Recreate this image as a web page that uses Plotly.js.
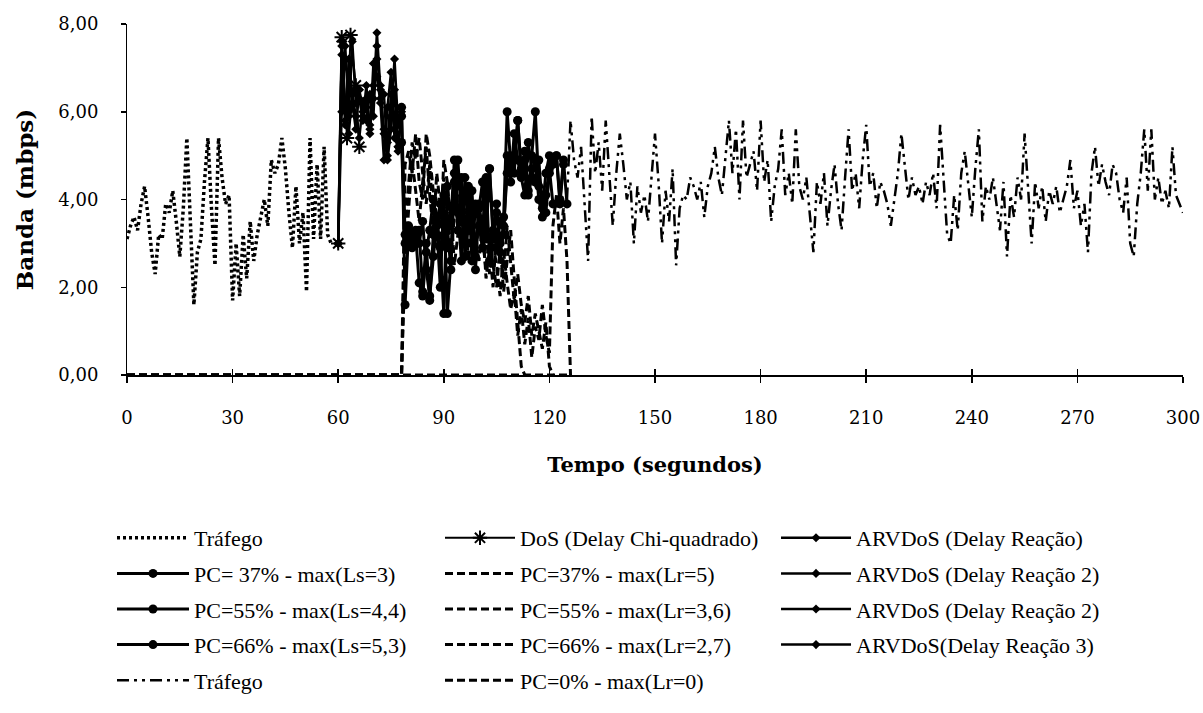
<!DOCTYPE html>
<html>
<head>
<meta charset="utf-8">
<script src="https://cdn.plot.ly/plotly-3.0.1.min.js"></script>
<style>html,body{margin:0;padding:0;background:#fff}#chart{width:1203px;height:713px}</style>
</head>
<body>
<div id="chart"></div>
<script>
// ---- data (seconds -> mbps) ----
const xTicks = [0, 30, 60, 90, 120, 150, 180, 210, 240, 270, 300];
const yTicks = [0, 2, 4, 6, 8];

const trafegoStart = 0;
const trafegoVals = [3.1,3.4,3.6,3.3,3.9,4.3,3.6,2.8,2.3,3.2,3.1,3.9,3.7,4.2,3.5,2.7,3.8,5.4,3.5,1.6,
  2.8,3.1,4.4,5.4,3.8,2.5,5.4,4.5,3.9,4.1,1.7,3.0,1.8,3.2,2.2,3.5,2.6,3.2,3.6,4.0,
  3.4,4.9,4.6,4.8,5.4,4.7,3.7,2.9,4.3,3.0,3.7,1.9,5.4,3.1,4.8,3.1,5.2,3.2,3.0];

const dosTimes = [60, 61, 62.5, 63.5, 65, 66];
const dosVals = [3.0, 7.7, 5.4, 7.75, 6.6, 5.2];

const arvStart = 60;
const arv1Vals  = [3.0,7.6,6.1,5.5,6.4,6.5,6.3,5.8,6.6,5.6,6.3,7.8,6.5,6.4,5.0,5.9,7.2,5.7,6.1];
const arv2Vals  = [3.0,6.0,7.5,5.9,7.6,6.2,6.5,5.9,6.3,5.5,7.1,6.8,6.2,4.9,6.1,6.9,5.4,5.2,5.9];
const arv2bVals = [3.0,7.3,5.8,6.0,6.2,5.6,6.5,6.0,5.8,6.4,5.9,7.5,6.3,5.6,5.3,6.4,5.9,5.1,5.3];
const arv3Vals  = [3.0,7.5,5.7,7.2,6.4,5.9,5.4,6.2,6.1,5.7,6.6,7.2,6.6,5.5,4.9,5.6,6.5,5.2,6.0];

const lsStart = 78;
const ls37Vals = [6.1,1.6,3.3,3.2,3.1,3.3,1.9,3.0,1.7,3.2,3.6,2.9,1.4,4.3,3.5,4.9,3.7,2.6,4.5,3.3,
  4.2,2.7,3.8,4.4,3.1,4.7,3.3,2.9,3.5,3.6,6.0,4.8,4.9,5.8,4.6,4.9,4.2,5.0,6.0,4.3,
  4.0,3.7,4.6,4.9,5.0,3.9,4.8];
const ls55Vals = [5.9,3.2,3.4,3.0,3.2,2.1,1.8,2.8,3.3,4.0,3.4,2.0,4.1,1.4,2.6,4.6,4.9,3.6,3.0,4.3,
  2.6,3.9,3.4,2.9,4.0,4.7,3.1,3.7,3.0,3.4,4.6,5.0,4.6,5.8,4.7,5.1,4.1,4.5,4.9,4.0,
  3.6,4.1,4.7,3.9];
const ls66Vals = [5.3,3.0,3.3,2.9,3.3,3.0,3.5,2.4,1.8,2.7,3.5,3.9,3.0,3.4,2.4,4.4,3.3,4.5,2.7,3.4,
  3.8,2.4,3.9,3.3,4.5,2.6,3.2,3.9,2.8,3.2,5.0,4.4,5.5,4.9,4.5,4.1,5.3,4.7,4.4,4.9,
  3.8,4.6,5.0,4.8,5.0,4.0,4.9,3.9];

const lrZeroUntil = 78;      // all Lr series sit on 0 until this second
const lrStart = 79;
const lr37Vals = [4.8,5.1,4.6,5.5,4.4,4.0,5.5,5.0,4.2,3.6,2.9,4.9,4.4,3.3,4.1,3.5,3.0,3.8,2.6,3.4,
  2.9,3.6,3.1,2.4,3.2,2.5,2.0,2.9,1.9,2.6,3.3,2.2,1.2,0.2,0];
const lr55Vals = [3.4,4.3,5.3,4.9,5.4,4.6,3.9,4.8,3.5,2.9,3.7,4.5,2.8,3.9,2.5,3.2,4.3,3.6,2.7,3.9,
  3.0,2.6,3.5,2.2,2.9,2.0,3.3,2.7,2.2,3.4,2.5,1.7,2.3,1.6,1.2,1.8,0.9,1.4,1.0,0.6,
  1.2,0.2,0];
const lr66Vals = [2.6,3.7,4.9,4.2,3.5,4.4,5.2,4.1,3.3,4.6,3.8,3.1,4.0,2.7,3.6,4.7,3.4,2.9,4.1,3.3,
  2.5,3.8,2.8,3.4,2.3,3.0,2.5,1.8,2.8,2.1,1.5,1.9,0.9,1.5,0.7,1.3,0.4,1.1,0.8,1.6,
  0.9,0.5,3.4,4.1,3.0,3.8,2.6,0];
const pc0Times = [0, 126];
const pc0Vals = [0, 0];

const trafego2Start = 125;
const trafego2Vals = [4.0,5.8,4.9,4.5,5.2,3.9,2.6,5.9,4.6,5.3,4.2,5.8,4.5,3.4,4.6,5.5,4.8,4.0,4.4,3.0,
  4.3,3.7,4.1,3.5,4.5,5.5,4.4,3.0,4.2,3.5,4.7,2.5,3.8,4.1,4.0,4.5,4.3,4.0,4.4,3.6,
  4.3,4.6,5.2,4.5,4.1,5.0,5.8,4.6,5.6,4.0,5.8,4.5,4.8,5.1,4.2,5.8,4.4,4.9,3.5,4.3,
  4.7,5.6,4.1,4.6,3.9,5.6,4.3,4.0,4.5,3.7,2.8,4.4,3.9,4.6,3.4,4.2,4.8,3.9,3.3,4.5,
  5.6,4.2,4.6,3.8,4.9,5.7,4.3,4.6,3.8,4.4,4.2,3.9,3.4,4.0,4.6,5.5,4.7,4.0,4.5,4.1,
  4.3,3.9,4.4,4.1,4.6,3.8,5.7,4.4,3.2,3.0,4.1,3.3,4.6,5.1,4.3,3.6,4.7,5.6,3.5,4.3,
  4.0,4.5,3.9,3.3,4.4,2.7,4.1,3.6,4.5,4.0,5.5,4.2,3.0,4.4,3.8,4.3,3.5,4.2,3.9,4.3,
  3.7,4.0,4.3,4.9,3.8,4.2,3.4,3.9,2.8,4.6,5.2,4.3,4.8,4.4,4.1,4.8,4.6,4.0,3.7,4.5,
  3.0,2.7,3.9,4.6,5.6,4.2,5.6,4.0,4.5,3.9,4.2,3.8,5.2,4.1,3.9,3.7];

// ---- helpers ----
function seconds(start, n) { const a = []; for (let i = 0; i < n; i++) a.push(start + i); return a; }
function lrTimes(vals) { return [0, lrZeroUntil].concat(seconds(lrStart, vals.length)); }
function lrValues(vals) { return [0, 0].concat(vals); }

const K = '#000';
const solid = (w) => ({color: K, width: w});
const traces = [];
function add(t) { t.type = 'scatter'; t.legendgroup = 'g' + traces.length; traces.push(t); }

add({name: 'Tráfego', legend: 'legend', x: seconds(trafegoStart, trafegoVals.length), y: trafegoVals,
  mode: 'lines', line: {color: K, width: 3.5, dash: '3px,3px'}});
add({name: 'DoS (Delay Chi-quadrado)', legend: 'legend2', x: dosTimes, y: dosVals, mode: 'lines+markers',
  line: solid(2), marker: {symbol: 'asterisk-open', size: 12, color: K, line: {color: K, width: 2}}});
add({name: 'ARVDoS (Delay Reação)', legend: 'legend3', x: seconds(arvStart, arv1Vals.length), y: arv1Vals,
  mode: 'lines+markers', line: solid(2.5), marker: {symbol: 'diamond', size: 7, color: K}});
add({name: 'PC= 37% - max(Ls=3)', legend: 'legend', x: seconds(lsStart, ls37Vals.length), y: ls37Vals,
  mode: 'lines+markers', line: solid(3), marker: {symbol: 'circle', size: 9, color: K}});
add({name: 'PC=37% - max(Lr=5)', legend: 'legend2', x: lrTimes(lr37Vals), y: lrValues(lr37Vals),
  mode: 'lines', line: {color: K, width: 3, dash: '8px,4px'}});
add({name: 'ARVDoS (Delay Reação 2)', legend: 'legend3', x: seconds(arvStart, arv2Vals.length), y: arv2Vals,
  mode: 'lines+markers', line: solid(2.5), marker: {symbol: 'diamond', size: 7, color: K}});
add({name: 'PC=55% - max(Ls=4,4)', legend: 'legend', x: seconds(lsStart, ls55Vals.length), y: ls55Vals,
  mode: 'lines+markers', line: solid(3), marker: {symbol: 'circle', size: 9, color: K}});
add({name: 'PC=55% - max(Lr=3,6)', legend: 'legend2', x: lrTimes(lr55Vals), y: lrValues(lr55Vals),
  mode: 'lines', line: {color: K, width: 3, dash: '8px,4px'}});
add({name: 'ARVDoS (Delay Reação 2)', legend: 'legend3', x: seconds(arvStart, arv2bVals.length), y: arv2bVals,
  mode: 'lines+markers', line: solid(2.5), marker: {symbol: 'diamond', size: 7, color: K}});
add({name: 'PC=66% - max(Ls=5,3)', legend: 'legend', x: seconds(lsStart, ls66Vals.length), y: ls66Vals,
  mode: 'lines+markers', line: solid(3), marker: {symbol: 'circle', size: 9, color: K}});
add({name: 'PC=66% - max(Lr=2,7)', legend: 'legend2', x: lrTimes(lr66Vals), y: lrValues(lr66Vals),
  mode: 'lines', line: {color: K, width: 3, dash: '8px,4px'}});
add({name: 'ARVDoS(Delay Reação 3)', legend: 'legend3', x: seconds(arvStart, arv3Vals.length), y: arv3Vals,
  mode: 'lines+markers', line: solid(2.5), marker: {symbol: 'diamond', size: 7, color: K}});
add({name: 'Tráfego', legend: 'legend', x: seconds(trafego2Start, trafego2Vals.length), y: trafego2Vals,
  mode: 'lines', line: {color: K, width: 2.5, dash: '12px,5px,3px,5px,3px,5px'}});
add({name: 'PC=0% - max(Lr=0)', legend: 'legend2', x: pc0Times, y: pc0Vals, xaxis: 'x2', yaxis: 'y2',
  mode: 'lines', line: {color: K, width: 3, dash: '8px,4px'}});

const serif = 'Liberation Serif, DejaVu Serif, serif';
const wide = 'DejaVu Serif, Liberation Serif, serif';
const legendBase = {orientation: 'v', traceorder: 'grouped', tracegroupgap: 4, itemwidth: 70,
  font: {family: serif, size: 22, color: K}, bgcolor: 'rgba(0,0,0,0)', borderwidth: 0,
  yanchor: 'top', y: -0.4045, xanchor: 'left'};
const clear = 'rgba(0,0,0,0)';

const layout = {
  width: 1203, height: 713,
  margin: {l: 127, r: 20, t: 24, b: 333},
  paper_bgcolor: '#fff', plot_bgcolor: '#fff',
  separators: ',.',
  showlegend: true,
  font: {family: serif, color: K},
  // main x axis: line, outside ticks, labels and title
  xaxis: {range: [0, 300], tickvals: xTicks, ticktext: xTicks.map(String), showgrid: false, zeroline: false,
    showline: true, linecolor: K, linewidth: 1.5, ticks: 'outside', ticklen: 6, tickwidth: 1.5, tickcolor: K,
    tickfont: {family: wide, size: 18, color: K}, ticklabelstandoff: 20,
    title: {text: '<b>Tempo (segundos)</b>', font: {family: wide, size: 21, color: K}, standoff: 30}},
  // overlay x axis: inside half of the crossing ticks
  xaxis2: {range: [0, 300], overlaying: 'x', anchor: 'y2', side: 'bottom', tickvals: xTicks, showticklabels: false,
    showgrid: false, zeroline: false, showline: false, ticks: 'inside', ticklen: 6, tickwidth: 1.5, tickcolor: K},
  // main y axis: line and short outside ticks
  yaxis: {range: [0, 8], tickvals: yTicks, showticklabels: false, showgrid: false, zeroline: false,
    showline: true, linecolor: K, linewidth: 1.5, ticks: 'outside', ticklen: 5, tickwidth: 1.5, tickcolor: K},
  // overlay y axis: labels pushed away from the axis, and the title
  yaxis2: {range: [0, 8], overlaying: 'y', anchor: 'x2', side: 'left', tickvals: yTicks, tickformat: '.2f',
    showgrid: false, zeroline: false, showline: false, ticks: 'outside', ticklen: 24, tickcolor: clear,
    tickfont: {family: wide, size: 18, color: K},
    title: {text: '<b>Banda (mbps)</b>', font: {family: wide, size: 23, color: K}, standoff: 18}},
  legend: Object.assign({}, legendBase, {x: -0.0142, itemwidth: 72}),
  legend2: Object.assign({}, legendBase, {x: 0.2964}),
  legend3: Object.assign({}, legendBase, {x: 0.6146})
};

Plotly.newPlot('chart', traces, layout, {displayModeBar: false, staticPlot: true});
</script>
</body>
</html>
